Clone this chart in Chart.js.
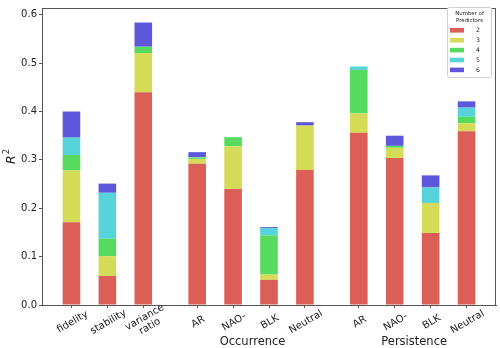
<!DOCTYPE html>
<html><head><meta charset="utf-8">
<script src="https://cdn.jsdelivr.net/npm/chart.js@4/dist/chart.umd.min.js"></script>
<style>html,body{margin:0;padding:0;background:#fff;} #wrap{width:500px;height:348px;position:relative;}</style>
</head><body><div id="wrap"><canvas id="c" width="500" height="348"></canvas></div>
<script>
// ---- data ----
const categories = ["fidelity","stability","variance\nratio","AR","NAO-","BLK","Neutral","AR","NAO-","BLK","Neutral"];
const groupSizes = [3, 4, 4];
const groupTitles = ["", "Occurrence", "Persistence"];
const predictorCounts = ["2", "3", "4", "5", "6"];
const r2Pred2 = [0.171, 0.060, 0.440, 0.292, 0.240, 0.052, 0.279, 0.356, 0.304, 0.149, 0.359];
const r2Pred3 = [0.107, 0.041, 0.081, 0.010, 0.088, 0.011, 0.092, 0.040, 0.021, 0.062, 0.017];
const r2Pred4 = [0.032, 0.036, 0.013, 0.003, 0.019, 0.081, 0.000, 0.090, 0.004, 0.000, 0.013];
const r2Pred5 = [0.036, 0.095, 0.000, 0.001, 0.000, 0.015, 0.000, 0.007, 0.000, 0.032, 0.019];
const r2Pred6 = [0.054, 0.019, 0.050, 0.010, 0.000, 0.002, 0.007, 0.000, 0.021, 0.025, 0.013];
const yTickValues = [0.0, 0.1, 0.2, 0.3, 0.4, 0.5, 0.6];

// ---- derived ----
const seriesValues = [r2Pred2, r2Pred3, r2Pred4, r2Pred5, r2Pred6];
const colors = ["#db5f57", "#d3db57", "#57db5f", "#57d3db", "#5f57db"];
const groupGap = 0.5;
const positions = [];
const groupIndex = [];
(function(){ let x = 0; groupSizes.forEach((n, g) => { for (let i = 0; i < n; i++) { positions.push(x); groupIndex.push(g); x += 1; } x += groupGap; }); })();
const margin = 0.82;

const AXIS = '#555';
const TEXT = '#222';
const FONT = '"DejaVu Sans", sans-serif';

const decor = {
  id: 'decor',
  afterDraw(chart) {
    const ctx = chart.ctx, ca = chart.chartArea, xs = chart.scales.x;
    ctx.save();
    // frame
    ctx.strokeStyle = AXIS; ctx.lineWidth = 1;
    ctx.strokeRect(Math.round(ca.left) + 0.5, Math.round(ca.top) + 0.5, Math.round(ca.right - ca.left) - 1, Math.round(ca.bottom - ca.top));
    // x tick labels, rotated 30deg, centred on tick
    ctx.fillStyle = TEXT; ctx.font = '10px ' + FONT; ctx.textAlign = 'center'; ctx.textBaseline = 'middle';
    categories.forEach((lab, i) => {
      const lines = lab.split('\n');
      const px = xs.getPixelForValue(positions[i]);
      const lh = 10.4;
      ctx.save();
      ctx.translate(px + 1 + (lines.length > 1 ? 3 : 0), 322);
      ctx.rotate(-Math.PI / 6);
      lines.forEach((ln, j) => ctx.fillText(ln, 0, (j - (lines.length - 1) / 2) * lh));
      ctx.restore();
    });
    // group titles
    ctx.font = '11.5px ' + FONT; ctx.textBaseline = 'alphabetic';
    groupTitles.forEach((t, g) => {
      if (!t) return;
      const px = positions.filter((_, i) => groupIndex[i] === g).map(v => xs.getPixelForValue(v));
      const cx = px.reduce((a, b) => a + b, 0) / px.length + 1.5;
      ctx.fillText(t, cx, 344.5);
    });
    // y title R^2
    ctx.save();
    ctx.translate(11, (ca.top + ca.bottom) / 2);
    ctx.rotate(-Math.PI / 2);
    ctx.font = 'italic 12.5px ' + FONT;
    const wR = ctx.measureText('R').width;
    ctx.font = '8.5px ' + FONT;
    const w2 = ctx.measureText('2').width;
    const tot = wR + 1 + w2;
    ctx.textAlign = 'left'; ctx.textBaseline = 'middle';
    ctx.font = 'italic 12.5px ' + FONT;
    ctx.fillText('R', -tot / 2, 1);
    ctx.font = '8.5px ' + FONT;
    ctx.fillText('2', -tot / 2 + wR + 1, -4);
    ctx.restore();
    // legend
    const lx = 447, ly = 7, lw = 44, lh2 = 70;
    ctx.fillStyle = '#fff'; ctx.strokeStyle = '#d0d0d0'; ctx.lineWidth = 1;
    ctx.beginPath();
    if (ctx.roundRect) ctx.roundRect(lx + 0.5, ly + 0.5, lw, lh2, 2); else ctx.rect(lx + 0.5, ly + 0.5, lw, lh2);
    ctx.fill(); ctx.stroke();
    ctx.fillStyle = TEXT; ctx.textAlign = 'center'; ctx.textBaseline = 'middle';
    ctx.font = '5.4px ' + FONT;
    ctx.fillText('Number of', lx + lw / 2 + 0.5, 13.5);
    ctx.fillText('Predictors', lx + lw / 2 + 0.5, 20.2);
    ctx.font = '6.2px ' + FONT;
    predictorCounts.forEach((p, k) => {
      const y = 30.3 + k * 9.9;
      ctx.fillStyle = colors[k];
      ctx.fillRect(450, y - 2.3, 14, 4.6);
      ctx.fillStyle = TEXT;
      ctx.fillText(p, 478, y + 0.3);
    });
    ctx.restore();
  }
};

new Chart(document.getElementById('c'), {
  type: 'bar',
  data: {
    datasets: seriesValues.map((vals, k) => ({
      label: predictorCounts[k],
      data: vals.map((v, i) => ({ x: positions[i], y: v })),
      backgroundColor: colors[k],
      borderWidth: 0,
      categoryPercentage: 1,
      barPercentage: 0.49
    }))
  },
  options: {
    responsive: false,
    animation: false,
    layout: { padding: { top: 4, right: 4, left: 0, bottom: 0 } },
    plugins: { legend: { display: false }, tooltip: { enabled: false } },
    scales: {
      x: {
        type: 'linear', stacked: true, offset: false,
        min: positions[0] - margin, max: positions[positions.length - 1] + margin,
        afterBuildTicks: s => { s.ticks = positions.map(v => ({ value: v })); },
        afterFit: s => { s.height = 43; },
        ticks: { callback: () => '', autoSkip: false, maxRotation: 0 },
        grid: { drawOnChartArea: false, drawTicks: true, tickLength: 3, color: AXIS, offset: false },
        border: { display: true, color: AXIS }
      },
      y: {
        stacked: true, min: 0, max: 0.614,
        afterBuildTicks: s => { s.ticks = yTickValues.map(v => ({ value: v })); },
        afterFit: s => { s.width = 42; },
        ticks: { callback: v => Number(v).toFixed(1), color: TEXT, font: { family: FONT, size: 10 }, padding: 2 },
        grid: { drawOnChartArea: false, drawTicks: true, tickLength: 3, color: AXIS },
        border: { display: true, color: AXIS }
      }
    }
  },
  plugins: [decor]
});
</script>
</body></html>
